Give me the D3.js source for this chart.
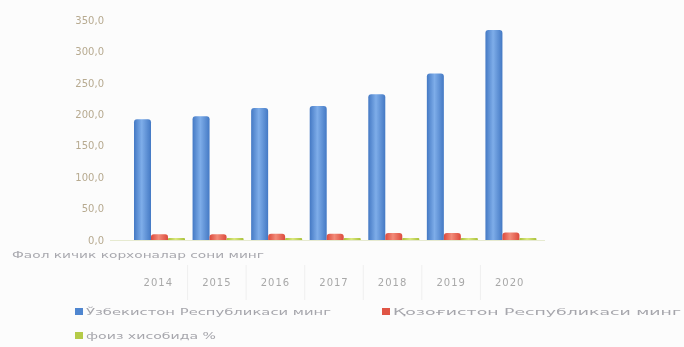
<!DOCTYPE html>
<html>
<head>
<meta charset="utf-8">
<script src="https://cdn.jsdelivr.net/npm/d3@7"></script>
<style>
  html, body { margin: 0; padding: 0; background: #fcfcfc; }
  svg { display: block; filter: blur(0.45px); }
  text { font-family: "DejaVu Sans", sans-serif; }
</style>
</head>
<body>
<svg id="chart" width="684" height="347"></svg>
<script>
// Years shown along the category axis
const years = ["2014", "2015", "2016", "2017", "2018", "2019", "2020"];
// Active small enterprises, thousand units
const uzbekistan = [192, 197, 210, 213, 232, 265, 334];
const kazakhstan = [9, 9, 10, 10, 11, 11, 12];
// Ratio, per cent
const percent = [3, 3, 3, 3, 3, 3, 3];
// Value-axis ticks
const yTicks = [0, 50, 100, 150, 200, 250, 300, 350];

const seriesNames = [
  "Ўзбекистон Республикаси минг",
  "Қозоғистон Республикаси минг",
  "фоиз хисобида %"
];
const axisTitle = "Фаол кичик корхоналар сони минг";

const svg = d3.select("#chart");
const defs = svg.append("defs");

const palette = [
  { edge: "#4479c4", mid: "#7eade9", swatch: "#4f86d0" },
  { edge: "#dc4a3c", mid: "#f28b79", swatch: "#e05545" },
  { edge: "#a9c13a", mid: "#dbe87f", swatch: "#b5cb48" }
];
palette.forEach((c, i) => {
  const g = defs.append("linearGradient").attr("id", "grad" + i)
    .attr("x1", "0%").attr("x2", "100%").attr("y1", "0%").attr("y2", "0%");
  g.append("stop").attr("offset", "0%").attr("stop-color", c.edge);
  g.append("stop").attr("offset", "45%").attr("stop-color", c.mid);
  g.append("stop").attr("offset", "100%").attr("stop-color", c.edge);
});

const x = d3.scaleBand().domain(years).range([129, 539]).padding(0);
const inner = d3.scaleBand().domain([0, 1, 2]).range([5, 56]).padding(0);
const y = d3.scaleLinear().domain([0, 350]).range([240, 20]);

// Value axis labels (no line, no ticks)
const yAxis = d3.axisLeft(y).tickValues(yTicks).tickSize(0).tickPadding(0)
  .tickFormat(d => d3.format(".1f")(d).replace(".", ","));
const yg = svg.append("g").attr("transform", "translate(104,0)").call(yAxis);
yg.select(".domain").remove();
yg.selectAll("text").attr("fill", "#b7aa90").style("font-size", "10px")
  .style("font-family", "DejaVu Sans, sans-serif");

// Baseline
svg.append("line").attr("x1", 110).attr("x2", 545).attr("y1", y(0) + 0.5).attr("y2", y(0) + 0.5)
  .attr("stroke", "#e6ead0").attr("stroke-width", 1);

// Bars with a rounded top
const allSeries = [uzbekistan, kazakhstan, percent];
function barPath(x0, w, yTop, yBase) {
  const r = Math.min(3, w / 2, (yBase - yTop) / 2);
  return `M${x0},${yBase} L${x0},${yTop + r} Q${x0},${yTop} ${x0 + r},${yTop} ` +
         `L${x0 + w - r},${yTop} Q${x0 + w},${yTop} ${x0 + w},${yTop + r} L${x0 + w},${yBase} Z`;
}
allSeries.forEach((vals, si) => {
  svg.append("g").selectAll("path").data(vals).join("path")
    .attr("d", (v, i) => barPath(x(years[i]) + inner(si), inner.bandwidth(), y(v), y(0)))
    .attr("fill", `url(#grad${si})`);
});

// Category axis title
svg.append("text").attr("x", 12).attr("y", 258).text(axisTitle)
  .attr("textLength", 252).attr("lengthAdjust", "spacingAndGlyphs")
  .attr("fill", "#a8a8ae").style("font-size", "8px");

// Year labels with faint table separators
const xAxis = d3.axisBottom(x).tickSize(0).tickPadding(0);
const xg = svg.append("g").attr("transform", "translate(0,279)").call(xAxis);
xg.select(".domain").remove();
xg.selectAll("text").attr("fill", "#a8a8a8").style("font-size", "10px")
  .style("letter-spacing", "1px")
  .style("font-family", "DejaVu Sans, sans-serif");
svg.append("g").selectAll("line").data(years.slice(1)).join("line")
  .attr("x1", d => x(d)).attr("x2", d => x(d)).attr("y1", 265).attr("y2", 300)
  .attr("stroke", "#efefef");

// Legend
const legendItems = [
  { x: 75, y: 315, w: 245 },
  { x: 382, y: 315, w: 288 },
  { x: 75, y: 339, w: 130 }
];
legendItems.forEach((p, i) => {
  svg.append("rect").attr("x", p.x).attr("y", p.y - 7).attr("width", 8).attr("height", 7)
    .attr("fill", palette[i].swatch);
  svg.append("text").attr("x", p.x + 11).attr("y", p.y).text(seriesNames[i])
    .attr("textLength", p.w).attr("lengthAdjust", "spacingAndGlyphs")
    .attr("fill", "#a6a6ac").style("font-size", "8.5px");
});
</script>
</body>
</html>
